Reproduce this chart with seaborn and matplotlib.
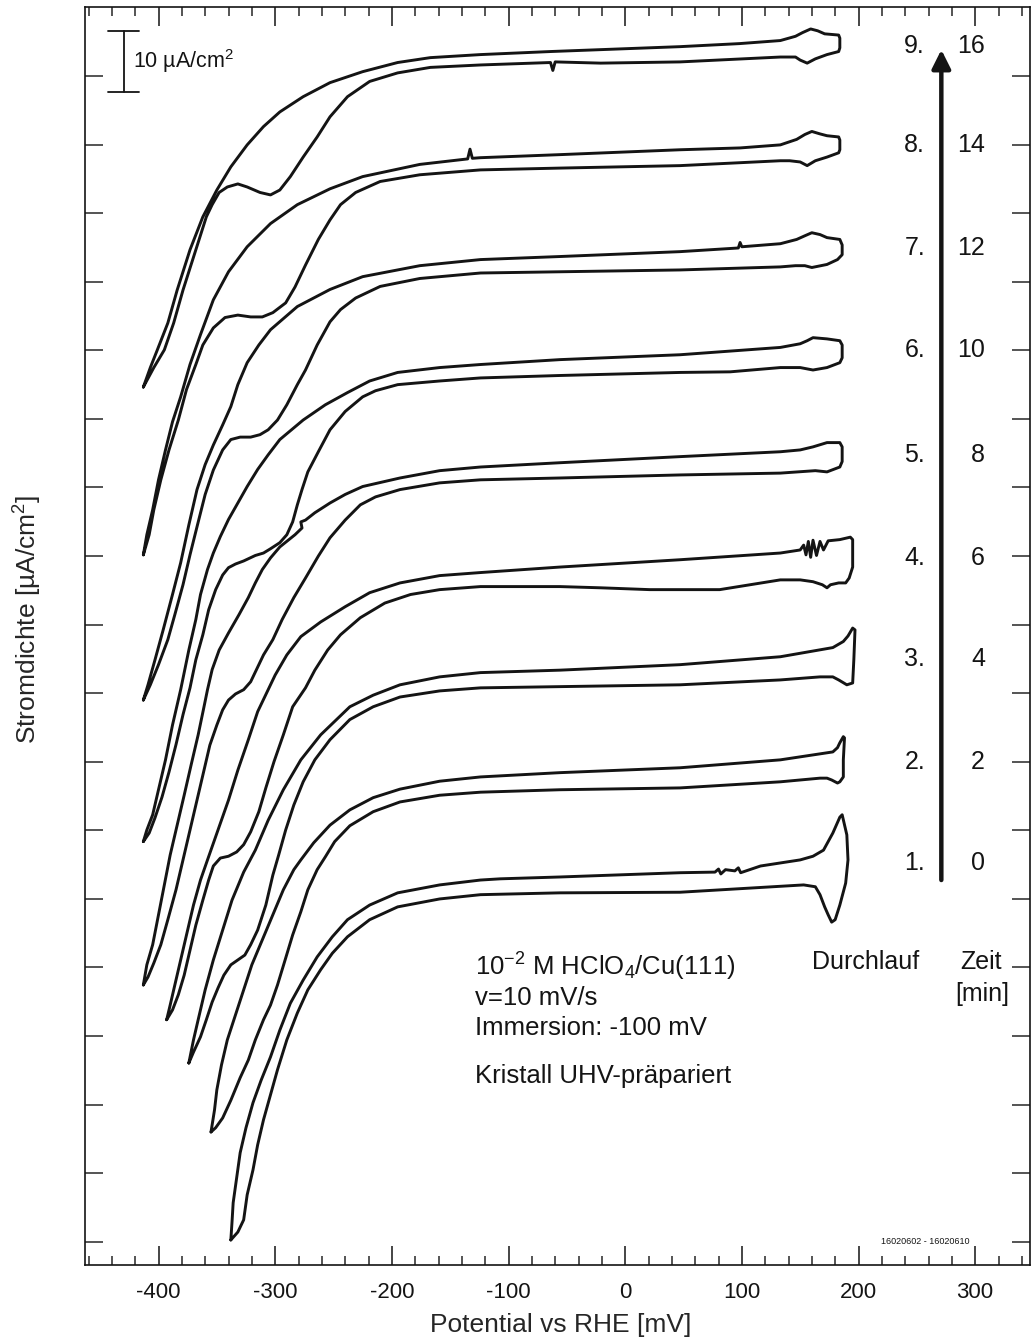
import numpy as np
import pandas as pd
import matplotlib
matplotlib.use("Agg")
import matplotlib.pyplot as plt
import seaborn as sns
from matplotlib.ticker import MultipleLocator, FixedLocator, NullFormatter

sns.set_theme(style="ticks")
plt.rcParams['font.family'] = ['Liberation Sans', 'DejaVu Sans']
plt.rcParams['mathtext.fontset'] = 'custom'
plt.rcParams['mathtext.rm'] = 'Liberation Sans'
plt.rcParams['mathtext.it'] = 'Liberation Sans:italic'
plt.rcParams['mathtext.bf'] = 'Liberation Sans:bold'
plt.rcParams['axes.unicode_minus'] = False

# ---------------- data (potential in mV vs RHE, current density in uA/cm^2, stacked) -------------
RUNS = [1, 2, 3, 4, 5, 6, 7, 8, 9]
TIMES = [0, 2, 4, 6, 8, 10, 12, 14, 16]
LABEL_J = [65.9, 82.5, 99.3, 115.9, 132.8, 150.0, 166.7, 183.6, 199.8]

# run 9
E9_up = [-413, -407, -401, -392, -384, -373, -362, -350, -338, -324, -310, -296, -276, -253, -225, -195, -167, -124, -64, 47, 98, 133, 146, 152, 159, 165, 171, 183, 184]
J9_up = [143.9, 147.1, 150.0, 154.4, 159.8, 166.4, 171.8, 176.2, 180.0, 183.6, 186.6, 189.0, 191.5, 193.8, 195.6, 197.1, 197.9, 198.4, 198.9, 199.7, 200.2, 200.7, 201.4, 202.0, 202.6, 202.3, 201.8, 201.6, 201.1]
E9_lo = [184, 183, 173, 163, 156, 150, 146, 133, 47, -21, -60, -62, -64, -124, -167, -195, -219, -238, -253, -264, -276, -287, -296, -304, -313, -324, -332, -341, -348, -354, -359, -368, -379, -387, -395, -404]
J9_lo = [199.5, 198.9, 198.4, 197.7, 197.0, 197.5, 198.0, 198.0, 197.2, 197.0, 197.2, 195.8, 197.1, 196.7, 196.3, 195.4, 194.0, 191.5, 188.2, 184.9, 181.6, 178.4, 176.2, 175.4, 175.8, 176.7, 177.2, 176.7, 175.8, 173.8, 171.8, 166.4, 159.8, 154.4, 150.0, 147.1]

# run 8
E8_up = [-413, -410, -405, -400, -394, -388, -381, -373, -364, -353, -340, -324, -304, -281, -253, -225, -176, -135, -133, -131, -124, -56, 47, 98.5, 133, 147, 154, 160, 167, 173, 183, 184]
J8_up = [116.4, 119.7, 123.8, 128.7, 133.6, 138.2, 142.3, 147.6, 152.5, 158.2, 162.8, 166.9, 170.7, 173.8, 176.4, 178.4, 180.4, 181.3, 182.9, 181.4, 181.5, 182.0, 182.8, 183.1, 183.6, 184.5, 185.3, 185.8, 185.4, 185.1, 184.9, 184.4]
E8_lo = [184, 183, 173, 163, 156, 150, 141, 133, 47, -55, -124, -176, -210, -231, -244, -253, -263, -274, -283, -291, -302, -311, -321, -332, -343, -353, -362, -368, -376, -383, -391, -398, -404, -408]
J8_lo = [182.8, 182.3, 181.6, 181.0, 180.2, 180.8, 181.0, 181.0, 180.2, 179.8, 179.5, 178.7, 177.6, 175.8, 173.8, 171.3, 168.1, 163.9, 160.3, 157.7, 156.1, 155.4, 155.4, 155.7, 155.3, 153.6, 150.8, 147.6, 143.5, 138.5, 133.6, 128.7, 123.8, 119.7]

# run 7
E7_up = [-413, -409, -403, -396, -388, -381, -374, -367, -360, -353, -345, -338, -332, -324, -314, -304, -281, -253, -225, -176, -124, -56, 47, 97, 98.5, 100, 133, 147, 154, 160, 167, 173, 184, 186]
J7_up = [92.6, 95.1, 99.2, 104.1, 109.9, 115.1, 121.3, 127.1, 131.2, 134.4, 137.7, 140.7, 144.3, 147.9, 150.8, 153.3, 157.1, 159.9, 162.0, 163.8, 164.8, 165.3, 166.1, 166.7, 167.6, 166.9, 167.4, 168.1, 168.7, 169.2, 168.9, 168.4, 168.1, 167.2]
E7_lo = [186, 182, 173, 160, 154, 146, 133, 47, -56, -124, -176, -210, -231, -244, -253, -264, -274, -281, -290, -298, -306, -313, -321, -330, -338, -345, -353, -360, -367, -373, -379, -386, -392, -400, -407]
J7_lo = [165.6, 164.8, 164.0, 163.5, 163.8, 163.8, 163.6, 163.1, 162.8, 162.6, 161.7, 160.4, 158.5, 156.6, 154.6, 150.8, 146.7, 144.3, 141.0, 138.5, 136.9, 136.1, 135.7, 135.7, 135.3, 133.6, 130.3, 126.3, 121.0, 116.4, 111.5, 106.6, 102.5, 98.4, 95.1]

# run 6
E6_up = [-413, -410, -405, -400, -394, -388, -381, -374, -368, -364, -358, -353, -347, -340, -332, -324, -315, -306, -296, -276, -257, -238, -219, -195, -159, -124, -56, 47, 133, 150, 156, 161, 173, 184, 186]
J6_up = [69.4, 71.3, 73.8, 77.9, 82.8, 88.5, 94.3, 100.8, 105.8, 109.9, 114.0, 116.7, 119.4, 122.2, 124.9, 127.6, 130.4, 132.8, 135.3, 138.5, 141.0, 143.0, 144.9, 146.3, 147.1, 147.6, 148.4, 149.2, 150.4, 151.0, 151.5, 152.0, 151.8, 151.5, 150.8]
E6_lo = [186, 184, 173, 161, 150, 133, 90, 47, -56, -124, -159, -195, -214, -225, -240, -253, -263, -272, -277, -281, -285, -290, -296, -304, -310, -317, -327, -334, -340, -345, -351, -357, -362, -368, -373, -379, -385, -391, -397, -403, -408]
J6_lo = [148.7, 147.9, 147.1, 146.7, 147.1, 147.1, 146.4, 146.3, 145.8, 145.4, 144.9, 144.3, 143.3, 142.3, 139.9, 136.9, 133.3, 130.0, 127.1, 124.6, 121.8, 119.7, 118.4, 117.4, 116.7, 116.3, 115.4, 114.9, 114.3, 113.1, 110.7, 107.4, 103.3, 99.2, 94.6, 90.2, 85.3, 80.8, 76.7, 73.3, 70.8]

# run 5
E5_up = [-413, -410, -405, -400, -395, -390, -384, -378, -372, -366, -361, -358, -354, -348, -340, -331, -323, -317, -311, -304, -296, -283, -277, -278, -274, -266, -253, -240, -225, -193, -159, -124, -56, 47, 133, 150, 161, 173, 184, 186]
J5_up = [45.9, 49.2, 52.5, 57.4, 62.3, 67.2, 72.1, 77.0, 82.0, 86.9, 91.5, 94.3, 97.6, 100.8, 103.6, 106.6, 109.4, 111.8, 114.0, 115.9, 117.7, 119.7, 120.8, 121.8, 122.1, 123.3, 124.9, 126.3, 127.6, 129.0, 130.2, 130.8, 131.5, 132.5, 133.3, 133.6, 134.1, 134.8, 134.8, 134.1]
E5_lo = [186, 184, 173, 163, 133, 47, -56, -124, -159, -193, -214, -227, -240, -253, -263, -274, -284, -294, -302, -310, -316, -321, -327, -334, -340, -345, -350, -356, -361, -367, -373, -379, -385, -392, -398, -404, -409]
J5_lo = [131.7, 130.8, 130.0, 130.2, 129.8, 129.5, 129.0, 128.7, 128.2, 127.1, 125.9, 124.6, 122.1, 119.2, 116.2, 112.6, 109.4, 105.8, 102.5, 100.0, 97.6, 95.6, 94.3, 93.6, 92.6, 91.0, 88.5, 85.2, 81.1, 76.2, 71.3, 66.4, 61.5, 56.6, 52.5, 49.5, 47.2]

# run 4
E4_up = [-393, -390, -386, -381, -376, -370, -364, -358, -349, -340, -332, -323, -315, -308, -300, -290, -278, -261, -240, -219, -193, -159, -124, -56, 47, 133, 150, 153, 155, 157, 159, 161, 164, 167, 170, 174, 184, 193, 195]
J4_up = [40.2, 42.6, 45.9, 50.0, 54.1, 59.0, 63.1, 66.4, 71.3, 76.2, 81.1, 86.1, 90.7, 93.5, 96.7, 100.0, 103.0, 105.4, 107.9, 110.2, 111.8, 113.0, 113.5, 114.4, 115.6, 116.7, 117.2, 118.0, 116.4, 118.6, 116.0, 118.8, 116.3, 118.6, 117.2, 118.7, 118.9, 119.3, 118.9]
E4_lo = [195, 192, 189, 183, 176, 173, 169, 161, 150, 133, 81, 21, -21, -56, -124, -159, -184, -206, -227, -244, -255, -266, -274, -285, -293, -301, -308, -314, -321, -327, -333, -340, -347, -353, -357, -362, -368, -373, -378, -383, -388]
J4_lo = [114.4, 112.6, 111.8, 111.8, 111.5, 111.0, 111.5, 112.0, 112.3, 112.3, 110.7, 110.7, 111.0, 111.2, 111.2, 110.7, 109.9, 108.5, 106.1, 103.3, 100.8, 97.5, 94.6, 91.5, 86.9, 82.5, 78.2, 74.3, 71.0, 68.9, 67.7, 67.0, 66.7, 65.4, 63.1, 59.8, 55.7, 51.6, 47.5, 44.3, 41.8]

# run 3
E3_up = [-374, -370, -366, -360, -353, -345, -337, -327, -317, -306, -293, -278, -261, -236, -216, -193, -159, -124, -56, 47, 133, 178, 187, 191, 195, 197]
J3_up = [33.1, 36.9, 40.2, 45.1, 50.0, 54.9, 59.8, 64.4, 68.0, 72.9, 77.9, 82.8, 86.9, 91.5, 93.4, 95.1, 96.4, 97.1, 97.5, 98.4, 99.7, 101.2, 102.2, 103.1, 104.4, 104.1]
E3_lo = [196, 195, 190, 183, 178, 167, 133, 47, -56, -124, -159, -193, -216, -236, -253, -266, -276, -284, -291, -297, -302, -308, -315, -321, -326, -332, -338, -344, -349, -354, -359, -364, -370]
J3_lo = [99.2, 95.4, 95.1, 95.9, 96.4, 96.4, 95.9, 95.1, 94.8, 94.6, 94.1, 93.1, 91.5, 89.4, 86.1, 82.8, 79.2, 75.4, 71.3, 67.2, 63.9, 59.0, 54.9, 52.5, 50.8, 50.0, 49.2, 47.5, 45.4, 43.1, 40.2, 37.4, 34.9]

# run 2
E2_up = [-355, -352, -350, -346, -341, -334, -327, -320, -311, -302, -293, -284, -278, -267, -253, -236, -216, -193, -159, -124, -56, 47, 133, 178, 182, 184, 187, 188]
J2_up = [21.8, 25.4, 28.7, 32.8, 36.9, 41.0, 45.1, 49.2, 53.3, 57.4, 61.5, 64.8, 66.4, 69.2, 72.1, 74.6, 76.6, 78.0, 79.3, 80.0, 80.7, 81.5, 82.8, 84.1, 84.8, 85.6, 86.6, 86.4]
E2_lo = [187, 187, 184, 182, 177, 173, 167, 133, 47, -56, -124, -159, -193, -216, -236, -249, -257, -264, -272, -278, -285, -291, -298, -304, -310, -317, -323, -330, -338, -345, -351]
J2_lo = [82.8, 80.0, 79.2, 79.0, 79.5, 79.8, 79.8, 79.2, 78.2, 77.9, 77.5, 77.0, 75.9, 74.3, 72.0, 69.4, 66.9, 64.8, 61.5, 57.9, 54.1, 50.3, 45.9, 42.6, 40.2, 36.9, 33.6, 30.7, 27.0, 24.1, 22.5]

# run 1
E1_up = [-338, -337, -336, -333, -330, -325, -319, -312, -304, -296, -287, -276, -264, -251, -238, -219, -195, -159, -124, -107, -56, 47, 77, 80, 82, 86, 94, 97, 99, 116, 150, 161, 170, 178, 184, 186]
J1_up = [4.1, 7.0, 10.2, 14.3, 18.4, 22.5, 26.6, 30.3, 34.1, 38.5, 42.9, 46.7, 50.5, 53.8, 56.6, 59.0, 61.0, 62.3, 63.1, 63.3, 63.6, 64.3, 64.4, 64.9, 64.1, 64.8, 64.6, 65.1, 64.3, 65.4, 66.4, 67.0, 68.0, 70.8, 73.4, 73.8]
E1_lo = [190, 191, 189, 184, 180, 177, 174, 171, 167, 163, 153, 47, -56, -124, -159, -195, -219, -238, -251, -261, -272, -281, -290, -298, -304, -310, -315, -319, -324, -327, -332]
J1_lo = [70.5, 66.4, 62.6, 59.0, 56.6, 56.2, 57.4, 58.7, 60.7, 62.0, 62.3, 61.1, 61.0, 60.7, 60.0, 58.7, 56.6, 53.8, 51.1, 48.4, 45.1, 41.3, 36.9, 32.0, 27.9, 23.8, 19.7, 15.6, 11.5, 7.4, 5.4]

CURVES = {
    1: (E1_up, J1_up, E1_lo, J1_lo), 2: (E2_up, J2_up, E2_lo, J2_lo),
    3: (E3_up, J3_up, E3_lo, J3_lo), 4: (E4_up, J4_up, E4_lo, J4_lo),
    5: (E5_up, J5_up, E5_lo, J5_lo), 6: (E6_up, J6_up, E6_lo, J6_lo),
    7: (E7_up, J7_up, E7_lo, J7_lo), 8: (E8_up, J8_up, E8_lo, J8_lo),
    9: (E9_up, J9_up, E9_lo, J9_lo),
}

rows = []
for run, (eu, ju, el, jl) in CURVES.items():
    E = list(eu) + list(el) + [eu[0]]
    J = list(ju) + list(jl) + [ju[0]]
    for e, j in zip(E, J):
        rows.append({"run": run, "E": e, "j": j})
df = pd.DataFrame(rows)

# ---------------- figure ----------------
W, H = 1034, 1341
fig = plt.figure(figsize=(W / 100, H / 100), dpi=100)
ax = fig.add_axes([85 / W, 76 / H, 945 / W, 1258 / H])

sns.lineplot(data=df, x="E", y="j", units="run", estimator=None, sort=False,
             color="#141414", lw=2.1, ax=ax, legend=False)
for ln in ax.lines:
    ln.set_solid_joinstyle("round")

ax.set_xlim(-463, 347)
ax.set_ylim(0, 206.2)

ax.xaxis.set_major_locator(MultipleLocator(100))
ax.xaxis.set_minor_locator(MultipleLocator(20))
ax.yaxis.set_major_locator(FixedLocator(np.arange(3.82, 200, 11.24)))
ax.yaxis.set_major_formatter(NullFormatter())
ax.tick_params(axis="x", which="major", direction="in", length=14, width=1.1,
               top=True, bottom=True, labelsize=16, pad=12, colors="#141414")
ax.tick_params(axis="x", which="minor", direction="in", length=6.5, width=1.1,
               top=True, bottom=True)
ax.tick_params(axis="y", which="major", direction="in", length=13, width=1.1,
               left=True, right=True)
for s in ax.spines.values():
    s.set_linewidth(1.2)
    s.set_color("#141414")
ax.set_facecolor("white")

ax.set_xlabel("Potential vs RHE [mV]", fontsize=19, va="center")
ax.xaxis.set_label_coords(0.503, -0.0477)
ax.set_ylabel("Stromdichte [µA/cm$^2$]", fontsize=19, va="center")
ax.yaxis.set_label_coords(-0.060, 0.513)

# scale bar 10 uA/cm^2
sb_x, sb_lo, sb_hi = -430, 192.3, 202.3
ax.plot([sb_x, sb_x], [sb_lo, sb_hi], color="#141414", lw=1.3)
ax.plot([sb_x - 13, sb_x + 13], [sb_hi, sb_hi], color="#141414", lw=1.3)
ax.plot([sb_x - 13, sb_x + 13], [sb_lo, sb_lo], color="#141414", lw=1.3)
ax.text(-421.5, 197.3, "10 µA/cm$^2$", fontsize=15.5, ha="left", va="center", color="#141414")

# run / time labels
for run, t, jl in zip(RUNS, TIMES, LABEL_J):
    ax.text(257, jl, f"{run}.", fontsize=18, ha="right", va="center", color="#141414")
    ax.text(308.5, jl, f"{t}", fontsize=18, ha="right", va="center", color="#141414")

# time arrow
ax.annotate("", xy=(271, 199.2), xytext=(271, 63.1),
            arrowprops=dict(arrowstyle="-|>", lw=3.2, color="#141414",
                            mutation_scale=28, shrinkA=0, shrinkB=0))

ax.text(205.7, 49.7, "Durchlauf", fontsize=18, ha="center", va="center", color="#141414")
ax.text(305, 49.7, "Zeit", fontsize=18, ha="center", va="center", color="#141414")
ax.text(306, 44.4, "[min]", fontsize=18, ha="center", va="center", color="#141414")

# experimental conditions
ax.text(-128.5, 48.9, "10$^{-2}$ M HClO$_4$/Cu(111)", fontsize=18.5, ha="left", va="center", color="#141414")
ax.text(-128.5, 43.8, "v=10 mV/s", fontsize=18.5, ha="left", va="center", color="#141414")
ax.text(-128.5, 38.9, "Immersion: -100 mV", fontsize=18.5, ha="left", va="center", color="#141414")
ax.text(-128.5, 31.0, "Kristall UHV-präpariert", fontsize=18.5, ha="left", va="center", color="#141414")

ax.text(257, 3.9, "16020602 - 16020610", fontsize=6.5, ha="center", va="center", color="#141414")

fig.savefig("out.png", dpi=100, facecolor="white")
